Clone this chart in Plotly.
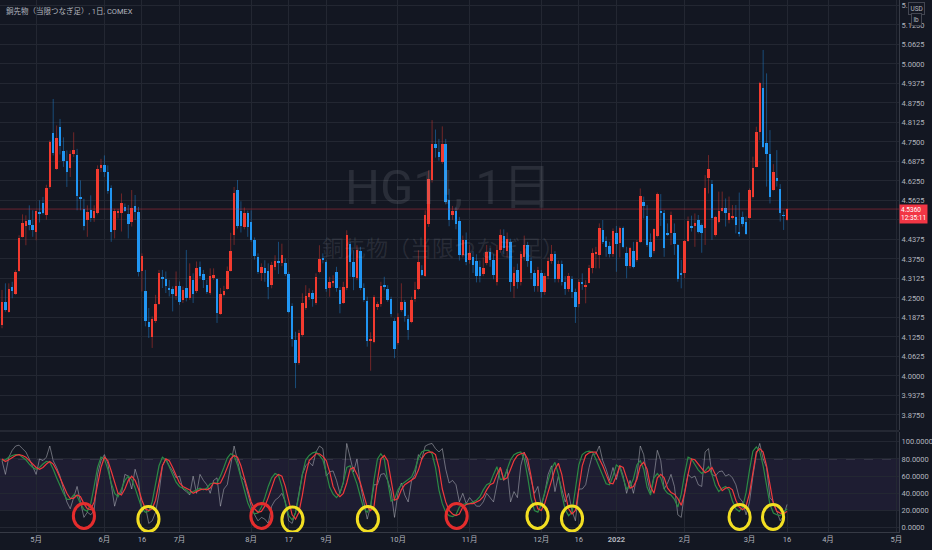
import plotly.graph_objects as go
import pandas as pd

# ---------------- data ----------------
opens = [4.164, 4.238, 4.206, 4.286, 4.263, 4.336, 4.446, 4.482, 4.499, 4.483,
         4.462, 4.527, 4.556, 4.517, 4.606, 4.779, 4.664, 4.799, 4.720, 4.688,
         4.666, 4.712, 4.707, 4.574, 4.534, 4.501, 4.531, 4.508, 4.524, 4.666,
         4.675, 4.654, 4.604, 4.467, 4.523, 4.521, 4.542, 4.519, 4.495, 4.545,
         4.526, 4.335, 4.274, 4.174, 4.125, 4.177, 4.230, 4.317, 4.310, 4.279,
         4.279, 4.258, 4.290, 4.242, 4.282, 4.250, 4.309, 4.271, 4.348, 4.327,
         4.292, 4.266, 4.313, 4.310, 4.200, 4.260, 4.279, 4.337, 4.452, 4.596,
         4.530, 4.478, 4.523, 4.494, 4.435, 4.382, 4.331, 4.345, 4.337, 4.291,
         4.348, 4.368, 4.361, 4.361, 4.327, 4.224, 4.116, 4.043, 4.132, 4.219,
         4.252, 4.267, 4.235, 4.334, 4.379, 4.364, 4.281, 4.297, 4.334, 4.275,
         4.235, 4.281, 4.424, 4.366, 4.313, 4.401, 4.281, 4.240, 4.112, 4.110,
         4.224, 4.230, 4.293, 4.278, 4.246, 4.176, 4.105, 4.212, 4.238, 4.182,
         4.174, 4.247, 4.278, 4.339, 4.321, 4.488, 4.627, 4.745, 4.717, 4.685,
         4.745, 4.563, 4.515, 4.528, 4.496, 4.387, 4.437, 4.373, 4.380, 4.368,
         4.350, 4.327, 4.361, 4.398, 4.373, 4.302, 4.403, 4.450, 4.400, 4.430,
         4.290, 4.340, 4.300, 4.380, 4.420, 4.370, 4.330, 4.290, 4.330, 4.270,
         4.320, 4.370, 4.390, 4.310, 4.360, 4.300, 4.280, 4.310, 4.270, 4.230,
         4.302, 4.286, 4.299, 4.345, 4.391, 4.388, 4.468, 4.433, 4.416, 4.390,
         4.459, 4.425, 4.473, 4.393, 4.354, 4.402, 4.372, 4.430, 4.559, 4.513,
         4.430, 4.402, 4.449, 4.530, 4.521, 4.457, 4.457, 4.457, 4.419, 4.327,
         4.329, 4.433, 4.481, 4.482, 4.500, 4.484, 4.473, 4.634, 4.615, 4.452,
         4.492, 4.530, 4.537, 4.500, 4.509, 4.509, 4.463, 4.509, 4.492, 4.507,
         4.573, 4.671, 4.783, 4.922, 4.746, 4.712, 4.596, 4.634, 4.599, 4.516,
         4.500]
highs = [4.276, 4.297, 4.297, 4.302, 4.340, 4.451, 4.518, 4.515, 4.547, 4.531,
         4.531, 4.563, 4.574, 4.613, 4.755, 4.888, 4.803, 4.824, 4.765, 4.723,
         4.723, 4.781, 4.728, 4.627, 4.568, 4.547, 4.579, 4.547, 4.675, 4.696,
         4.707, 4.675, 4.611, 4.536, 4.536, 4.585, 4.553, 4.548, 4.596, 4.580,
         4.542, 4.393, 4.340, 4.218, 4.191, 4.260, 4.340, 4.340, 4.335, 4.308,
         4.287, 4.335, 4.303, 4.287, 4.404, 4.361, 4.329, 4.367, 4.367, 4.340,
         4.308, 4.345, 4.345, 4.313, 4.282, 4.289, 4.351, 4.459, 4.606, 4.628,
         4.560, 4.540, 4.530, 4.531, 4.444, 4.393, 4.361, 4.371, 4.361, 4.366,
         4.387, 4.430, 4.424, 4.377, 4.334, 4.233, 4.142, 4.148, 4.265, 4.291,
         4.281, 4.275, 4.329, 4.419, 4.393, 4.371, 4.318, 4.323, 4.350, 4.286,
         4.302, 4.467, 4.430, 4.403, 4.419, 4.414, 4.297, 4.254, 4.140, 4.259,
         4.238, 4.302, 4.318, 4.291, 4.254, 4.185, 4.201, 4.297, 4.244, 4.196,
         4.254, 4.302, 4.403, 4.355, 4.531, 4.659, 4.820, 4.790, 4.760, 4.800,
         4.760, 4.600, 4.545, 4.540, 4.510, 4.450, 4.460, 4.420, 4.400, 4.390,
         4.370, 4.380, 4.420, 4.410, 4.390, 4.420, 4.470, 4.470, 4.460, 4.440,
         4.350, 4.360, 4.400, 4.450, 4.430, 4.380, 4.340, 4.350, 4.340, 4.330,
         4.380, 4.420, 4.400, 4.370, 4.370, 4.320, 4.330, 4.320, 4.280, 4.310,
         4.329, 4.307, 4.356, 4.409, 4.414, 4.489, 4.500, 4.447, 4.430, 4.473,
         4.481, 4.479, 4.479, 4.414, 4.414, 4.430, 4.436, 4.601, 4.575, 4.548,
         4.457, 4.473, 4.588, 4.583, 4.532, 4.489, 4.527, 4.489, 4.423, 4.372,
         4.436, 4.511, 4.514, 4.521, 4.516, 4.489, 4.644, 4.708, 4.628, 4.513,
         4.591, 4.591, 4.569, 4.575, 4.548, 4.548, 4.588, 4.527, 4.511, 4.601,
         4.703, 4.799, 4.943, 5.045, 4.970, 4.788, 4.679, 4.724, 4.615, 4.527,
         4.537]
lows = [4.153, 4.206, 4.203, 4.249, 4.260, 4.334, 4.444, 4.419, 4.467, 4.446,
        4.435, 4.492, 4.518, 4.501, 4.600, 4.707, 4.661, 4.710, 4.670, 4.606,
        4.638, 4.702, 4.531, 4.531, 4.467, 4.446, 4.494, 4.494, 4.518, 4.654,
        4.638, 4.584, 4.430, 4.441, 4.505, 4.463, 4.526, 4.441, 4.479, 4.500,
        4.319, 4.271, 4.159, 4.122, 4.090, 4.170, 4.228, 4.282, 4.266, 4.255,
        4.207, 4.244, 4.228, 4.234, 4.239, 4.244, 4.234, 4.266, 4.313, 4.282,
        4.263, 4.260, 4.308, 4.170, 4.196, 4.255, 4.276, 4.335, 4.420, 4.473,
        4.460, 4.470, 4.446, 4.430, 4.373, 4.327, 4.305, 4.302, 4.246, 4.281,
        4.339, 4.327, 4.352, 4.320, 4.201, 4.094, 3.961, 4.036, 4.126, 4.212,
        4.244, 4.222, 4.228, 4.329, 4.361, 4.270, 4.254, 4.286, 4.270, 4.201,
        4.231, 4.275, 4.318, 4.275, 4.307, 4.275, 4.238, 4.094, 4.017, 4.105,
        4.212, 4.222, 4.275, 4.238, 4.190, 4.057, 4.100, 4.206, 4.174, 4.116,
        4.169, 4.238, 4.275, 4.320, 4.318, 4.478, 4.620, 4.700, 4.690, 4.680,
        4.550, 4.480, 4.500, 4.470, 4.370, 4.380, 4.355, 4.360, 4.330, 4.300,
        4.300, 4.320, 4.355, 4.350, 4.310, 4.290, 4.395, 4.390, 4.380, 4.270,
        4.250, 4.280, 4.290, 4.370, 4.350, 4.310, 4.270, 4.270, 4.250, 4.260,
        4.310, 4.360, 4.300, 4.300, 4.290, 4.260, 4.270, 4.250, 4.170, 4.220,
        4.276, 4.233, 4.297, 4.329, 4.345, 4.345, 4.423, 4.382, 4.380, 4.382,
        4.334, 4.380, 4.409, 4.313, 4.345, 4.345, 4.366, 4.427, 4.505, 4.414,
        4.377, 4.393, 4.444, 4.481, 4.382, 4.449, 4.420, 4.388, 4.302, 4.281,
        4.313, 4.430, 4.463, 4.414, 4.457, 4.395, 4.420, 4.585, 4.436, 4.447,
        4.489, 4.527, 4.479, 4.489, 4.502, 4.457, 4.447, 4.479, 4.452, 4.505,
        4.569, 4.669, 4.756, 4.730, 4.607, 4.553, 4.594, 4.607, 4.495, 4.468,
        4.498]
closes = [4.238, 4.212, 4.278, 4.272, 4.334, 4.441, 4.489, 4.496, 4.485, 4.467,
          4.528, 4.521, 4.523, 4.602, 4.749, 4.715, 4.762, 4.736, 4.689, 4.654,
          4.712, 4.725, 4.576, 4.567, 4.480, 4.526, 4.507, 4.529, 4.664, 4.677,
          4.654, 4.592, 4.462, 4.529, 4.526, 4.556, 4.530, 4.486, 4.537, 4.526,
          4.332, 4.385, 4.177, 4.156, 4.184, 4.230, 4.329, 4.313, 4.290, 4.276,
          4.263, 4.290, 4.236, 4.276, 4.250, 4.322, 4.263, 4.345, 4.319, 4.308,
          4.268, 4.322, 4.324, 4.202, 4.263, 4.273, 4.337, 4.401, 4.585, 4.481,
          4.480, 4.523, 4.478, 4.435, 4.384, 4.334, 4.348, 4.331, 4.286, 4.355,
          4.368, 4.361, 4.389, 4.327, 4.206, 4.118, 4.041, 4.137, 4.235, 4.257,
          4.267, 4.247, 4.318, 4.374, 4.374, 4.278, 4.302, 4.304, 4.281, 4.231,
          4.284, 4.451, 4.366, 4.318, 4.405, 4.281, 4.244, 4.113, 4.120, 4.254,
          4.230, 4.288, 4.288, 4.244, 4.198, 4.087, 4.190, 4.238, 4.192, 4.148,
          4.244, 4.275, 4.366, 4.323, 4.515, 4.632, 4.745, 4.730, 4.701, 4.745,
          4.558, 4.499, 4.528, 4.488, 4.387, 4.437, 4.366, 4.393, 4.355, 4.320,
          4.320, 4.345, 4.398, 4.371, 4.323, 4.403, 4.451, 4.410, 4.440, 4.300,
          4.330, 4.300, 4.390, 4.420, 4.370, 4.330, 4.290, 4.340, 4.270, 4.320,
          4.370, 4.390, 4.310, 4.360, 4.300, 4.280, 4.320, 4.270, 4.220, 4.300,
          4.295, 4.292, 4.345, 4.393, 4.395, 4.473, 4.430, 4.414, 4.391, 4.465,
          4.422, 4.475, 4.414, 4.354, 4.409, 4.350, 4.430, 4.577, 4.546, 4.420,
          4.382, 4.470, 4.583, 4.525, 4.411, 4.452, 4.516, 4.423, 4.310, 4.324,
          4.433, 4.497, 4.473, 4.489, 4.463, 4.459, 4.604, 4.662, 4.507, 4.509,
          4.530, 4.537, 4.524, 4.521, 4.514, 4.484, 4.457, 4.486, 4.454, 4.596,
          4.666, 4.783, 4.938, 4.733, 4.712, 4.573, 4.653, 4.628, 4.524, 4.513,
          4.535]

# stochastic oscillator (lower pane): gray = fast line, green = %K, red = %D
stoch_fast = [78, 62, 82, 90, 95, 96, 92, 88, 80, 70, 62, 80, 78, 82, 95, 78, 70, 60, 45, 30,
              22, 35, 48, 30, 12, 18, 15, 20, 62, 78, 85, 75, 50, 25, 40, 40, 62, 60, 45, 68,
              55, 18, 25, 5, 8, 18, 40, 72, 80, 72, 66, 58, 60, 45, 42, 38, 60, 40, 62, 55,
              50, 40, 55, 58, 25, 45, 50, 72, 95, 78, 60, 55, 40, 25, 15, 8, 12, 10, 5, 25,
              32, 35, 40, 30, 8, 5, 18, 40, 62, 72, 76, 72, 88, 95, 92, 60, 65, 66, 55, 40,
              52, 98, 80, 65, 80, 50, 30, 10, 25, 50, 50, 62, 63, 55, 42, 12, 40, 52, 38, 30,
              55, 62, 85, 80, 95, 97, 98, 92, 88, 92, 68, 52, 55, 50, 30, 40, 28, 35, 30, 25,
              25, 30, 40, 35, 30, 50, 70, 55, 68, 30, 42, 35, 72, 88, 72, 55, 40, 48, 25, 40,
              62, 72, 42, 60, 45, 30, 40, 20, 8, 45, 45, 50, 70, 85, 86, 95, 78, 68, 55, 70,
              56, 72, 60, 40, 55, 40, 60, 95, 85, 58, 40, 60, 90, 78, 45, 52, 62, 48, 15, 12,
              42, 62, 58, 60, 50, 48, 88, 92, 62, 60, 65, 66, 60, 62, 58, 50, 35, 30, 15, 30,
              60, 85, 98, 80, 70, 35, 30, 20, 8, 14, 27]
stoch_k = [78, 79, 82, 84, 85, 85, 82, 79, 74, 70, 68, 70, 74, 77, 76, 68, 58, 48, 40, 33,
           33, 38, 37, 28, 21, 19, 28, 48, 70, 82, 80, 68, 52, 40, 36, 45, 55, 60, 56, 46,
           33, 22, 18, 19, 30, 50, 72, 82, 79, 71, 61, 53, 48, 46, 44, 40, 42, 44, 46, 44,
           46, 51, 52, 52, 60, 70, 81, 86, 84, 73, 58, 42, 29, 20, 16, 17, 24, 35, 48, 58,
           63, 61, 48, 29, 14, 9, 17, 38, 62, 79, 84, 87, 88, 84, 79, 64, 47, 39, 35, 40,
           53, 70, 72, 62, 51, 36, 22, 18, 25, 56, 80, 86, 80, 54, 31, 33, 44, 50, 53, 55,
           59, 68, 81, 88, 90, 90, 86, 70, 44, 28, 18, 14, 13, 15, 24, 27, 28, 28, 30, 32,
           36, 44, 50, 52, 62, 71, 56, 57, 68, 79, 85, 87, 88, 80, 59, 34, 20, 18, 27, 42,
           56, 69, 76, 62, 39, 21, 14, 18, 45, 73, 85, 88, 89, 88, 80, 71, 61, 51, 50, 60,
           73, 70, 57, 45, 48, 57, 73, 78, 68, 47, 38, 58, 63, 58, 45, 40, 38, 33, 24, 39,
           63, 82, 80, 74, 67, 63, 66, 71, 62, 49, 42, 46, 48, 44, 31, 22, 19, 24, 41, 67,
           89, 94, 89, 72, 49, 27, 17, 15, 14, 18, 22]
stoch_d = [80, 77, 79, 82, 84, 85, 84, 82, 78, 73, 70, 68, 70, 74, 77, 74, 67, 58, 48, 40,
           34, 34, 38, 36, 28, 22, 21, 30, 50, 70, 82, 78, 66, 52, 40, 38, 45, 55, 60, 55,
           45, 32, 22, 20, 22, 32, 52, 72, 80, 78, 70, 60, 52, 48, 46, 44, 40, 42, 44, 45,
           44, 46, 52, 51, 52, 60, 70, 80, 84, 82, 72, 58, 42, 30, 22, 18, 19, 25, 35, 48,
           58, 62, 60, 48, 30, 15, 10, 18, 38, 62, 78, 82, 86, 86, 83, 78, 65, 48, 40, 36,
           40, 52, 68, 70, 62, 52, 38, 24, 20, 25, 55, 80, 84, 78, 55, 32, 34, 44, 50, 53,
           55, 58, 67, 80, 86, 88, 88, 85, 70, 45, 30, 20, 16, 14, 16, 24, 27, 28, 28, 30,
           32, 36, 44, 50, 52, 62, 70, 56, 58, 68, 78, 84, 86, 87, 80, 60, 35, 22, 20, 28,
           42, 55, 68, 75, 62, 40, 22, 16, 20, 45, 72, 84, 87, 88, 88, 80, 72, 62, 52, 51,
           60, 72, 70, 58, 46, 48, 56, 72, 76, 68, 48, 40, 58, 62, 58, 46, 41, 39, 34, 26,
           40, 62, 80, 79, 74, 68, 64, 66, 70, 62, 50, 43, 46, 47, 44, 32, 24, 21, 25, 40,
           66, 88, 92, 88, 72, 50, 28, 19, 17, 16, 19]

# hand-drawn marks on the oscillator pane (bar index of centre, oscillator value of centre)
circle_idx = [24.0, 42.9, 76.0, 85.1, 107.2, 133.2, 156.9, 167.0, 216.1, 225.9]
circle_val = [13.6, 10.1, 13.6, 9.5, 10.1, 13.6, 13.6, 10.7, 12.4, 12.4]
circle_col = ["red", "yellow", "red", "yellow", "yellow", "red", "yellow", "yellow", "yellow", "yellow"]

last_price_text = "4.5360"
countdown_text = "12:35:11"

HOLIDAYS = ["2021-05-31", "2021-07-05", "2021-09-06", "2021-11-25", "2021-12-24",
            "2022-01-17", "2022-02-21", "2022-04-15"]
tick_dates = ["2021-05-03", "2021-06-01", "2021-06-16", "2021-07-01", "2021-08-02",
              "2021-08-17", "2021-09-01", "2021-10-01", "2021-11-01", "2021-12-01",
              "2021-12-16", "2022-01-03", "2022-02-01", "2022-03-01", "2022-03-16",
              "2022-04-01", "2022-05-02"]
tick_labels = ["5月", "6月", "16", "7月", "8月", "17", "9月", "10月", "11月", "12月",
               "16", "<b>2022</b>", "2月", "3月", "16", "4月", "5月"]

price_ticks = [3.8125 + 0.0625 * k for k in range(23)]
# the 4.5000 label sits under the last-price tag in the reference
price_tick_text = ["" if abs(v - 4.5) < 1e-9 else f"{v:.4f}" for v in price_ticks]
osc_ticks = [0, 20, 40, 60, 80, 100]

# ---------------- calendar ----------------
days = [d.strftime("%Y-%m-%d") for d in pd.bdate_range("2021-04-19", "2022-05-31")]
days = [d for d in days if d not in HOLIDAYS]
day_index = {d: i for i, d in enumerate(days)}
tick_pos = [day_index[d] for d in tick_dates]

BG = "#131722"
GRID = "#232732"
TXT = "#b2b5be"
UP = "#f23b30"
DOWN = "#2196f3"
UP_WICK = "rgba(242,59,48,0.42)"
DOWN_WICK = "rgba(33,150,243,0.42)"
CIRCLE = {"red": "#e52d2d", "yellow": "#f2df22"}

n = len(opens)
xs = list(range(n))

fig = go.Figure()

# wicks
for up, col in ((True, UP_WICK), (False, DOWN_WICK)):
    wx, wy = [], []
    for i in range(n):
        if (closes[i] >= opens[i]) == up:
            wx += [i, i, None]
            wy += [lows[i], highs[i], None]
    fig.add_trace(go.Scatter(x=wx, y=wy, mode="lines", line=dict(color=col, width=1),
                             hoverinfo="skip", showlegend=False, xaxis="x", yaxis="y"))

# bodies
base = [min(o, c) for o, c in zip(opens, closes)]
hgt = [max(abs(c - o), 0.0018) for o, c in zip(opens, closes)]
cols = [UP if c >= o else DOWN for o, c in zip(opens, closes)]
fig.add_trace(go.Bar(x=xs, y=hgt, base=base, width=0.72,
                     marker=dict(color=cols, line=dict(width=0)),
                     showlegend=False, xaxis="x", yaxis="y"))

# oscillator
fig.add_trace(go.Scatter(x=xs, y=stoch_fast, mode="lines",
                         line=dict(color="rgba(190,192,200,0.5)", width=1),
                         showlegend=False, xaxis="x2", yaxis="y2"))
fig.add_trace(go.Scatter(x=xs, y=stoch_k, mode="lines", line=dict(color="#2b8a45", width=1.2),
                         showlegend=False, xaxis="x2", yaxis="y2"))
fig.add_trace(go.Scatter(x=xs, y=stoch_d, mode="lines", line=dict(color="#f0393c", width=1.2),
                         showlegend=False, xaxis="x2", yaxis="y2"))

# last price line
fig.add_shape(type="line", xref="paper", x0=0, x1=1, yref="y",
              y0=closes[-1], y1=closes[-1],
              line=dict(color="rgba(242,54,69,0.40)", width=1))

XR = [-0.586, 262.8]
fig.update_layout(
    width=932, height=550,
    margin=dict(l=0, r=33, t=0, b=18),
    paper_bgcolor=BG, plot_bgcolor=BG,
    font=dict(family="Roboto, 'Noto Sans CJK JP', sans-serif", color=TXT, size=7.5),
    showlegend=False,
    bargap=0,
    xaxis=dict(domain=[0, 1], anchor="y", range=XR, tickvals=tick_pos, ticktext=tick_labels,
               showticklabels=False, showgrid=True, gridcolor=GRID, gridwidth=1,
               zeroline=False, showline=False, fixedrange=True),
    yaxis=dict(domain=[1 - 430 / 532, 1], anchor="x", side="right", range=[3.8269, 5.2051],
               tickvals=price_ticks, ticktext=price_tick_text, showgrid=True, gridcolor=GRID,
               zeroline=False, showline=True, linecolor="#363a45", ticks="",
               tickfont=dict(size=7.5, color=TXT)),
    xaxis2=dict(domain=[0, 1], anchor="y2", range=XR, tickvals=tick_pos, ticktext=tick_labels,
                showgrid=True, gridcolor=GRID, zeroline=False, showline=True,
                linecolor="#363a45", ticks="", tickfont=dict(size=7.5, color=TXT)),
    yaxis2=dict(domain=[0, 100 / 532], anchor="x2", side="right", range=[-5, 111.3],
                tickvals=osc_ticks, tickformat=".4f", showgrid=True, gridcolor=GRID,
                zeroline=False, showline=True, linecolor="#363a45", ticks="",
                tickfont=dict(size=7.5, color=TXT)),
)

# oscillator band 20-80
fig.add_shape(type="rect", xref="x2", yref="y2", x0=XR[0], x1=XR[1], y0=20, y1=80,
              fillcolor="rgba(126,87,194,0.10)", line=dict(width=0), layer="below")
for lvl in (20, 80):
    fig.add_shape(type="line", xref="x2", yref="y2", x0=XR[0], x1=XR[1], y0=lvl, y1=lvl,
                  line=dict(color="rgba(120,123,134,0.6)", width=1, dash="dash"), layer="below")

# circles drawn on the oscillator
for cx, cy, cc in zip(circle_idx, circle_val, circle_col):
    fig.add_shape(type="circle", xref="x2", yref="y2", x0=cx - 3.1, x1=cx + 3.1,
                  y0=cy - 14.5, y1=cy + 14.5, line=dict(color=CIRCLE[cc], width=3))

# pane divider
fig.add_shape(type="line", xref="paper", yref="paper", x0=0, x1=1,
              y0=1 - 431 / 532, y1=1 - 431 / 532, line=dict(color="#363a45", width=1))

# watermark
fig.add_annotation(text="HG1!, 1日", xref="paper", yref="paper", x=448 / 899, y=1 - 188 / 532,
                   showarrow=False, font=dict(size=49, color="rgba(178,181,190,0.14)",
                                              family="Roboto, 'Noto Sans CJK JP'"))
fig.add_annotation(text="銅先物（当限つなぎ足）", xref="paper", yref="paper", x=443 / 899,
                   y=1 - 246 / 532, showarrow=False,
                   font=dict(size=22, color="rgba(178,181,190,0.14)", family="'Noto Sans CJK JP'"))
# title
fig.add_annotation(text="銅先物（当限つなぎ足）, 1日, COMEX", xref="paper", yref="paper",
                   x=0.004, y=1 - 11 / 532, xanchor="left", yanchor="middle", showarrow=False,
                   font=dict(size=7.5, color=TXT, family="Roboto, 'Noto Sans CJK JP'"))
# currency / unit boxes (they sit over the top price labels, as in the reference)
for t, yy in (("USD", 9), ("lb", 19.5)):
    fig.add_annotation(text=t, xref="paper", yref="paper", x=916 / 899, y=1 - yy / 532,
                       xanchor="center", yanchor="middle", showarrow=False,
                       font=dict(size=6.5, color=TXT), bgcolor=BG, bordercolor="#434651",
                       borderwidth=1, borderpad=1.5)
# last price label
fig.add_annotation(text=last_price_text + "<br>" + countdown_text, xref="paper", yref="y",
                   x=1.0, y=closes[-1], xanchor="left", yanchor="top", showarrow=False,
                   align="left", font=dict(size=6.5, color="#ffffff"), bgcolor="#f23645",
                   borderpad=1, yshift=5)

fig.write_html("out.html", config={"displayModeBar": False},
               post_script="document.body.style.margin='0';document.body.style.overflow='hidden';")
